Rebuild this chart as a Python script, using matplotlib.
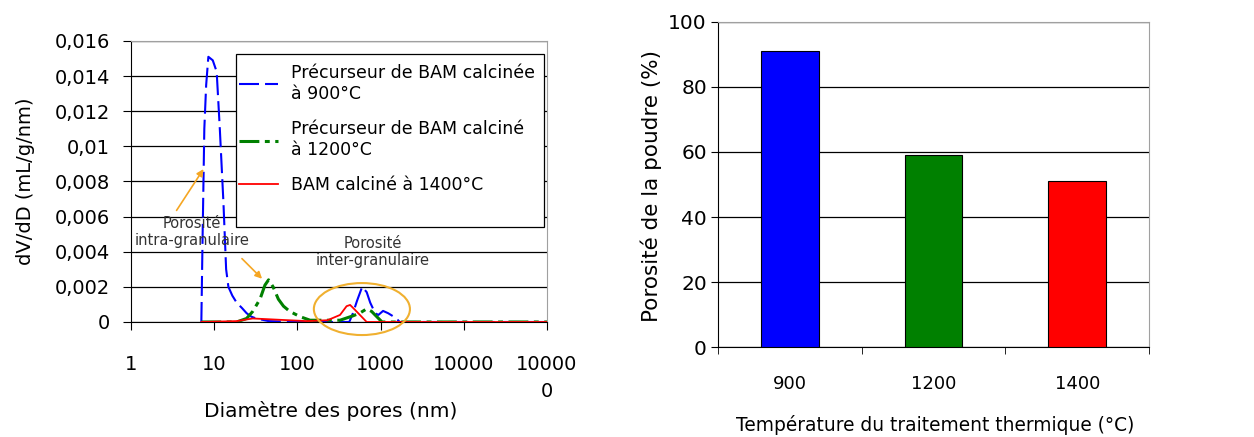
import numpy as np
import matplotlib.pyplot as plt
from matplotlib.patches import Ellipse, Rectangle

plt.rcParams['font.family'] = ['DejaVu Sans']

# --- left panel: pore size distribution (nm, mL/g/nm) ---
blue_d = [7.0, 7.2, 7.6, 8.0, 8.5, 9.6, 10.7, 11.7, 12.9, 13.9, 14.8, 16.5, 18.6, 21.5,
          24.5, 28, 32, 45, 100, 200, 300, 420, 465, 520, 600, 680, 750, 860, 940, 1070,
          1230, 1500, 1700, 1e5]
blue_v = [0, 0.004, 0.011, 0.0135, 0.0151, 0.0149, 0.01425, 0.0109, 0.0068, 0.003, 0.002,
          0.0015, 0.0011, 0.0008, 0.0005, 0.0003, 0.0002, 0.00005, 0, 0, 0, 0, 0.0005,
          0.0012, 0.002, 0.0017, 0.0011, 0.0005, 0.0004, 0.00063, 0.0005, 0.00025, 0, 0]

green_d = [7.0, 18.6, 24.5, 29, 35.5, 40.7, 45, 51, 59, 68, 81, 108, 142, 203, 325, 465,
           560, 680, 780, 900, 1040, 1e5]
green_v = [0, 0, 0.0002, 0.0006, 0.0013, 0.0021, 0.0024, 0.002, 0.0013, 0.0009, 0.0006,
           0.0003, 0.0001, 0.0001, 0.0001, 0.00035, 0.0005, 0.00075, 0.0006, 0.0003, 0, 0]

red_d = [7.0, 18.6, 29, 64, 130, 230, 325, 390, 430, 490, 680, 1e5]
red_v = [0, 0.00005, 0.0002, 0.00012, 0.00005, 0.0001, 0.0004, 0.0009, 0.00097, 0.0007, 0, 0]

labels_left = ["Précurseur de BAM calcinée\nà 900°C",
               "Précurseur de BAM calciné\nà 1200°C",
               "BAM calciné à 1400°C"]

y_ticks = [0, 0.002, 0.004, 0.006, 0.008, 0.01, 0.012, 0.014, 0.016]
y_tick_labels = ["0", "0,002", "0,004", "0,006", "0,008", "0,01", "0,012", "0,014", "0,016"]
x_ticks = [1, 10, 100, 1000, 10000, 100000]
x_tick_labels = ["1", "10", "100", "1000", "10000", "10000\n0"]

# --- right panel: porosity ---
temps = ["900", "1200", "1400"]
porosity = [91, 59, 51]
bar_colors = ["#0000FF", "#008000", "#FF0000"]

fig = plt.figure(figsize=(12.54, 4.37), dpi=100)
ax1 = fig.add_axes([0.1045, 0.2632, 0.3317, 0.643])
ax2 = fig.add_axes([0.5726, 0.2059, 0.3437, 0.7438])

orange = "#F5A623"

# left
ax1.set_xscale("log")
ax1.plot(blue_d, blue_v, color="#0000FF", lw=1.5, ls=(0, (9.6, 2.9)), label=labels_left[0], zorder=3)
ax1.plot(green_d, green_v, color="#008000", lw=2.2, ls=(0, (6.5, 1.8, 1.6, 1.8)), label=labels_left[1], zorder=3)
ax1.plot(red_d, red_v, color="#FF0000", lw=1.3, label=labels_left[2], zorder=4)
ax1.set_xlim(1, 1e5)
ax1.set_ylim(0, 0.016)
ax1.set_yticks(y_ticks)
ax1.set_yticklabels(y_tick_labels)
ax1.set_xticks(x_ticks)
ax1.set_xticklabels(x_tick_labels)
ax1.minorticks_off()
ax1.tick_params(axis="y", length=6, pad=9, labelsize=14, direction="out")
ax1.tick_params(axis="x", length=6, pad=18, labelsize=14, direction="out")
for t in ax1.get_xticklabels():
    t.set_linespacing(1.5)
ax1.grid(True, axis="y", color="black", lw=0.9)
ax1.set_axisbelow(True)
for s in ["top", "right"]:
    ax1.spines[s].set_color("#A0A0A0")
ax1.set_xlabel("Diamètre des pores (nm)", fontsize=14.5)
ax1.xaxis.set_label_coords(0.48, -0.281)
ax1.set_ylabel("dV/dD (mL/g/nm)", fontsize=14)
ax1.yaxis.set_label_coords(-0.231, 0.5)

# legend frame drawn separately (taller than the entries, as in the original)
ax1.add_patch(Rectangle((0.252, 0.338), 0.741, 0.616, transform=ax1.transAxes,
                        facecolor="white", edgecolor="black", lw=0.9, zorder=4.5))
leg = ax1.legend(loc="upper left", bbox_to_anchor=(0.252, 0.93), fontsize=12.5,
                 frameon=False, handlelength=2.25, handletextpad=0.75,
                 labelspacing=1.0, borderpad=0.2, borderaxespad=0)

ax1.annotate("", xy=(7.75, 0.00884), xytext=(3.38, 0.00622),
             arrowprops=dict(arrowstyle="-|>", color=orange, lw=1.2, mutation_scale=10))
ax1.annotate("", xy=(39.7, 0.00235), xytext=(20.4, 0.00372),
             arrowprops=dict(arrowstyle="-|>", color=orange, lw=1.2, mutation_scale=10))
ax1.text(5.41, 0.00512, "Porosité\nintra-granulaire", ha="center", va="center",
         fontsize=10.5, color="#333333", linespacing=1.2)
ax1.text(811, 0.00399, "Porosité\ninter-granulaire", ha="center", va="center",
         fontsize=10.5, color="#333333", linespacing=1.2)
ax1.add_patch(Ellipse((0.555, 0.046), 0.231, 0.185, transform=ax1.transAxes,
                      fill=False, edgecolor="#F0B030", lw=1.5, clip_on=False, zorder=5))

# right
pos = np.arange(len(temps))
ax2.bar(pos, porosity, width=0.4, color=bar_colors, edgecolor="black", lw=0.8, zorder=3)
ax2.set_xlim(-0.5, len(temps) - 0.5)
ax2.set_ylim(0, 100)
ax2.set_yticks([0, 20, 40, 60, 80, 100])
ax2.set_xticks(pos)
ax2.set_xticklabels(temps)
ax2.set_xticks(np.arange(len(temps) + 1) - 0.5, minor=True)
ax2.tick_params(axis="x", which="major", length=0, pad=20, labelsize=13)
ax2.tick_params(axis="x", which="minor", length=5, direction="out")
ax2.tick_params(axis="y", length=5, pad=3, labelsize=14.5)
ax2.grid(True, axis="y", color="black", lw=0.9)
ax2.set_axisbelow(True)
for s in ["top", "right"]:
    ax2.spines[s].set_color("#A0A0A0")
ax2.set_xlabel("Température du traitement thermique (°C)", fontsize=13.4)
ax2.xaxis.set_label_coords(0.503, -0.209)
ax2.set_ylabel("Porosité de la poudre (%)", fontsize=15.5)
ax2.yaxis.set_label_coords(-0.13, 0.495)

fig.savefig("out.png", dpi=100)
